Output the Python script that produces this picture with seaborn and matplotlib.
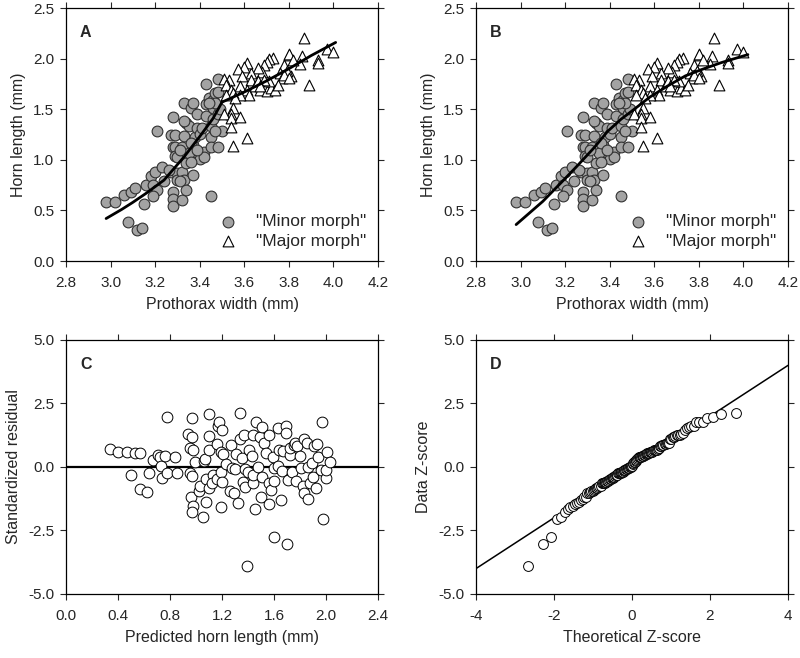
import numpy as np
import pandas as pd
import seaborn as sns
import matplotlib.pyplot as plt
from matplotlib.ticker import FormatStrFormatter
from statistics import NormalDist

# "Minor morph" beetles (grey circles)
minor_x = [2.98, 3.02, 3.06, 3.09, 3.11, 3.08, 3.12, 3.14, 3.15, 3.16, 3.18, 3.19,
           3.20, 3.21, 3.23, 3.24, 3.21, 3.19, 3.27, 3.28, 3.28, 3.27, 3.29, 3.28,
           3.29, 3.28, 3.28, 3.32, 3.29, 3.30, 3.30, 3.32, 3.33, 3.33, 3.34, 3.32,
           3.33, 3.34, 3.35, 3.36, 3.37, 3.37, 3.37, 3.37, 3.38, 3.38, 3.39, 3.39,
           3.40, 3.40, 3.41, 3.42, 3.42, 3.43, 3.43, 3.43, 3.44, 3.45, 3.45, 3.45,
           3.45, 3.46, 3.46, 3.46, 3.47, 3.48, 3.48, 3.48, 3.48, 3.49, 3.50, 3.47,
           3.31, 3.30, 3.35, 3.34, 3.36, 3.33, 3.31, 3.26, 3.36, 3.39, 3.47, 3.44]
minor_y = [0.58, 0.58, 0.65, 0.68, 0.72, 0.39, 0.31, 0.33, 0.56, 0.75, 0.84, 0.75,
           0.88, 1.28, 0.93, 0.79, 0.70, 0.64, 0.88, 0.68, 1.42, 1.25, 1.25, 1.13,
           1.13, 0.61, 0.54, 0.60, 1.04, 0.87, 0.80, 1.13, 1.24, 1.56, 1.36, 0.88,
           0.80, 0.97, 1.33, 1.51, 1.56, 1.15, 1.03, 0.85, 1.08, 1.23, 1.31, 1.45,
           1.01, 1.26, 1.31, 1.08, 1.03, 1.75, 1.43, 1.55, 1.61, 0.64, 1.23, 1.33,
           1.13, 1.40, 1.51, 1.59, 1.66, 1.67, 1.80, 1.13, 1.45, 1.50, 1.28, 1.28,
           0.79, 1.03, 1.07, 0.70, 1.17, 1.38, 1.10, 0.90, 0.98, 1.10, 1.56, 1.56]

# "Major morph" beetles (open triangles)
major_x = [3.87, 3.80, 3.80, 3.97, 4.00, 3.93, 3.93, 3.89, 3.86, 3.85, 3.82, 3.78,
           3.81, 3.79, 3.76, 3.77, 3.73, 3.71, 3.70, 3.69, 3.68, 3.66, 3.63, 3.61,
           3.60, 3.57, 3.59, 3.63, 3.53, 3.51, 3.52, 3.54, 3.58, 3.61, 3.65, 3.67,
           3.70, 3.72, 3.74, 3.71, 3.75, 3.69, 3.66, 3.62, 3.58, 3.55, 3.52, 3.56,
           3.55, 3.54, 3.51, 3.54, 3.58, 3.54, 3.55, 3.61, 3.67, 3.78, 3.80]
major_y = [2.20, 2.04, 2.05, 2.10, 2.07, 1.99, 1.96, 1.74, 2.03, 1.95, 1.99, 1.94,
           1.83, 1.88, 1.86, 1.81, 2.01, 2.00, 1.97, 1.94, 1.87, 1.91, 1.86, 1.96,
           1.92, 1.90, 1.83, 1.79, 1.79, 1.80, 1.74, 1.69, 1.73, 1.69, 1.73, 1.69,
           1.68, 1.71, 1.69, 1.78, 1.74, 1.79, 1.78, 1.64, 1.64, 1.66, 1.64, 1.61,
           1.51, 1.45, 1.45, 1.41, 1.42, 1.32, 1.14, 1.22, 1.73, 1.84, 1.81]

# fitted curves
fitA_lo_x = [2.98, 3.05, 3.10, 3.16, 3.24, 3.33, 3.40, 3.46, 3.50]
fitA_lo_y = [0.42, 0.51, 0.58, 0.67, 0.80, 1.03, 1.23, 1.41, 1.57]
fitA_hi_x = [3.50, 3.60, 3.70, 3.80, 3.90, 4.01]
fitA_hi_y = [1.57, 1.67, 1.78, 1.90, 2.03, 2.16]
fitB_x = [2.98, 3.10, 3.18, 3.25, 3.33, 3.39, 3.45, 3.51, 3.58, 3.66, 3.74, 3.81, 3.90, 4.02]
fitB_y = [0.36, 0.59, 0.77, 0.93, 1.12, 1.28, 1.40, 1.50, 1.62, 1.73, 1.83, 1.89, 1.96, 2.04]

# panel C: predicted horn length vs standardized residual
pred = [0.34, 0.40, 0.47, 0.53, 0.57, 0.50, 0.57, 0.62, 0.64, 0.67, 0.71, 0.72,
        0.73, 0.74, 0.76, 0.78, 0.78, 0.84, 0.85, 0.94, 0.97, 0.97, 0.95, 0.98,
        0.95, 0.97, 0.96, 0.98, 0.97, 0.99, 1.02, 1.03, 1.05, 1.06, 1.07, 1.10,
        1.10, 1.10, 1.08, 1.10, 1.08, 1.13, 1.12, 1.16, 1.17, 1.18, 1.20, 1.16,
        1.19, 1.19, 1.20, 1.19, 1.21, 1.23, 1.26, 1.27, 1.29, 1.28, 1.30, 1.31,
        1.32, 1.34, 1.34, 1.37, 1.35, 1.36, 1.38, 1.38, 1.39, 1.40, 1.41, 1.43,
        1.44, 1.44, 1.45, 1.44, 1.46, 1.48, 1.49, 1.51, 1.52, 1.51, 1.50, 1.54,
        1.56, 1.56, 1.56, 1.58, 1.59, 1.60, 1.60, 1.60, 1.63, 1.63, 1.64, 1.65,
        1.66, 1.67, 1.69, 1.69, 1.70, 1.71, 1.72, 1.72, 1.74, 1.75, 1.76, 1.77,
        1.78, 1.80, 1.81, 1.82, 1.83, 1.83, 1.85, 1.86, 1.86, 1.88, 1.89, 1.90,
        1.91, 1.92, 1.93, 1.94, 1.96, 1.97, 1.98, 2.00, 2.00, 2.01, 2.03]
resid = [0.71, 0.58, 0.58, 0.54, 0.54, -0.32, -0.88, -0.98, -0.25, 0.28, 0.49, 0.41,
         0.05, -0.45, 0.43, 1.96, -0.25, 0.38, -0.25, 1.30, 1.92, 1.19, 0.76, 0.67,
         -0.25, -0.34, -1.17, -1.54, -1.79, 0.21, -0.93, -0.74, -1.96, 0.25, 0.30, 2.07,
         1.23, 0.67, -0.49, -0.84, -1.37, -0.32, -0.64, 0.91, 1.61, 1.79, 1.46, -0.49,
         -0.18, -1.59, -0.58, 0.60, 0.51, 0.12, -0.93, 0.87, -1.04, -0.03, -0.09, 0.50,
         -1.43, 2.11, 1.09, 1.26, 0.34, -0.58, -0.09, -0.77, -3.89, -0.18, 0.67, 0.43,
         -0.62, 1.26, -1.67, -0.32, 1.79, 0.01, 1.19, 1.59, 0.96, -0.38, -1.17, 0.54,
         1.26, -0.62, -1.47, -0.91, 0.38, -0.56, -0.03, -2.74, 0.04, 1.52, 0.67, -1.30,
         -0.14, 0.63, 1.61, 1.35, -3.03, -0.51, 0.47, 0.74, -0.18, 0.87, 0.96, -0.55,
         0.83, 0.43, -0.05, -0.74, 1.09, -1.04, 0.93, -1.26, 0.01, -0.62, 0.14, -0.38,
         0.83, -0.84, 0.91, 0.38, -0.12, 1.79, -2.03, -0.45, -0.12, 0.60, 0.21]

# Q-Q of the residuals in panel D
n = len(resid)
data_z = sorted(resid)
theo_z = [NormalDist().inv_cdf((i + 0.5) / n) for i in range(n)]

sns.set_style('ticks')
plt.rcParams['font.family'] = ['Liberation Sans', 'DejaVu Sans']
plt.rcParams['axes.unicode_minus'] = False
plt.rcParams['axes.linewidth'] = 0.9

fig = plt.figure(figsize=(8, 6.58), dpi=100)
axA = fig.add_axes([0.0825, 0.6033, 0.39, 0.3845])
axB = fig.add_axes([0.595, 0.6033, 0.39, 0.3845])
axC = fig.add_axes([0.0825, 0.0973, 0.39, 0.386])
axD = fig.add_axes([0.595, 0.0973, 0.39, 0.386])

lab_fs = 11.5
tick_fs = 11

grey = '#a3a3a3'
for ax, curves in [(axA, [(fitA_lo_x, fitA_lo_y), (fitA_hi_x, fitA_hi_y)]),
                   (axB, [(fitB_x, fitB_y)])]:
    sns.scatterplot(x=minor_x, y=minor_y, ax=ax, marker='o', s=60, color=grey,
                    edgecolor='#303030', linewidth=0.8, label='"Minor morph"', zorder=3)
    sns.scatterplot(x=major_x, y=major_y, ax=ax, marker='^', s=60, color='white',
                    edgecolor='black', linewidth=0.8, label='"Major morph"', zorder=3)
    for cx, cy in curves:
        sns.lineplot(x=cx, y=cy, ax=ax, color='black', linewidth=2.0, sort=False,
                     estimator=None, zorder=4)
    ax.set_xlim(2.8, 4.2)
    ax.set_ylim(0, 2.5)
    ax.set_xticks(np.arange(2.8, 4.21, 0.2))
    ax.set_yticks(np.arange(0, 2.51, 0.5))
    ax.set_xlabel('Prothorax width (mm)', fontsize=lab_fs, labelpad=5)
    ax.set_ylabel('Horn length (mm)', fontsize=lab_fs, labelpad=5)
    ax.legend(loc='lower right', bbox_to_anchor=(1.0, 0.0), frameon=False,
              fontsize=12.5, handletextpad=0.6, borderaxespad=0.3, labelspacing=0.25)

sns.scatterplot(x=pred, y=resid, ax=axC, marker='o', s=60, color='white',
                edgecolor='black', linewidth=0.7, zorder=3)
sns.lineplot(x=[0.0, 2.4], y=[0.0, 0.0], ax=axC, color='black', linewidth=1.6, zorder=2)
axC.set_xlim(0, 2.4)
axC.set_ylim(-5, 5)
axC.set_xticks(np.arange(0, 2.41, 0.4))
axC.set_yticks(np.arange(-5, 5.1, 2.5))
axC.set_xlabel('Predicted horn length (mm)', fontsize=lab_fs, labelpad=5)
axC.set_ylabel('Standardized residual', fontsize=lab_fs, labelpad=5)

sns.lineplot(x=[-4, 4], y=[-4, 4], ax=axD, color='black', linewidth=1.1, zorder=2)
sns.scatterplot(x=theo_z, y=data_z, ax=axD, marker='o', s=50, color='white',
                edgecolor='black', linewidth=0.7, zorder=3)
axD.set_xlim(-4, 4)
axD.set_ylim(-5, 5)
axD.set_xticks(np.arange(-4, 4.1, 2))
axD.set_yticks(np.arange(-5, 5.1, 2.5))
axD.set_xlabel('Theoretical Z-score', fontsize=lab_fs, labelpad=5)
axD.set_ylabel('Data Z-score', fontsize=lab_fs, labelpad=5)

for ax, letter in [(axA, 'A'), (axB, 'B'), (axC, 'C'), (axD, 'D')]:
    ax.text(0.045, 0.905, letter, transform=ax.transAxes, fontsize=11.5,
            fontweight='bold', va='center', ha='left')
    ax.tick_params(top=True, right=True, direction='out', length=4.5, width=0.8,
                   labelsize=tick_fs)
    ax.tick_params(axis='x', pad=6)
    ax.tick_params(axis='y', pad=4)
    for sp in ax.spines.values():
        sp.set_visible(True)
        sp.set_color('black')
    ax.yaxis.set_major_formatter(FormatStrFormatter('%.1f'))
    if ax is not axD:
        ax.xaxis.set_major_formatter(FormatStrFormatter('%.1f'))
axD.xaxis.set_major_formatter(FormatStrFormatter('%d'))

fig.savefig('out.png', dpi=100)
